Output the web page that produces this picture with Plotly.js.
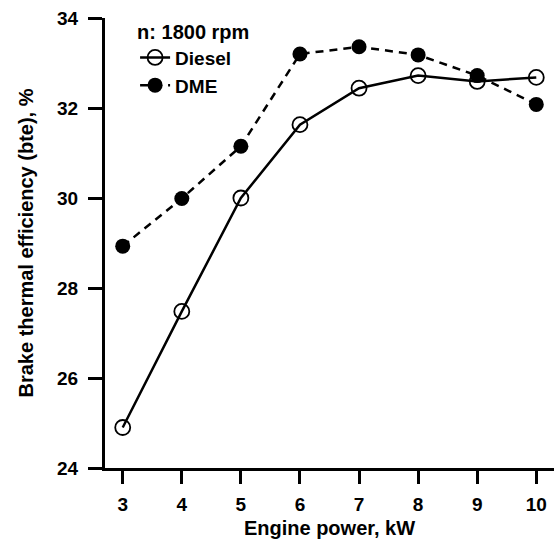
<!DOCTYPE html>
<html><head><meta charset="utf-8">
<script src="https://cdn.plot.ly/plotly-3.0.1.min.js"></script>
<style>body{margin:0;background:#fff}#chart{width:557px;height:540px}</style>
</head><body><div id="chart"></div>
<script>
const power = [3, 4, 5, 6, 7, 8, 9, 10];
const dieselBte = [24.9, 27.48, 30.0, 31.63, 32.44, 32.72, 32.59, 32.68];
const dmeBte = [28.93, 29.99, 31.15, 33.2, 33.36, 33.18, 32.72, 32.08];
const xTicks = [3, 4, 5, 6, 7, 8, 9, 10];
const yTicks = [24, 26, 28, 30, 32, 34];

const F = 'Liberation Sans, Arial, sans-serif';
const traces = [
  {x: power, y: dieselBte, name: 'Diesel', type: 'scatter', mode: 'lines+markers',
   line: {color: '#000', width: 2.5, dash: 'solid'},
   marker: {symbol: 'circle-open', size: 15, color: '#000', line: {width: 1.8, color: '#000'}}},
  {x: power, y: dmeBte, name: 'DME', type: 'scatter', mode: 'lines+markers',
   line: {color: '#000', width: 2.5, dash: '8px,6px'},
   marker: {symbol: 'circle', size: 15, color: '#000'}}
];
const layout = {
  width: 557, height: 540,
  margin: {l: 105, r: 3, t: 18, b: 72},
  paper_bgcolor: '#fff', plot_bgcolor: '#fff',
  font: {family: F, size: 20, color: '#000', weight: 'bold'},
  showlegend: true,
  legend: {x: 0.067, y: 1.012, xanchor: 'left', yanchor: 'top',
    bgcolor: 'rgba(0,0,0,0)', font: {family: F, size: 19, color: '#000', weight: 'bold'},
    title: {text: 'n: 1800 rpm', font: {family: F, size: 20, weight: 'bold'}, side: 'top'},
    tracegroupgap: 0},
  xaxis: {range: [2.7, 10.3], tickvals: xTicks, ticktext: xTicks.map(String),
    showgrid: false, zeroline: false, showline: true, linewidth: 3, linecolor: '#000',
    ticks: 'outside', ticklen: 13, tickwidth: 3, tickcolor: '#000', ticklabelstandoff: 4,
    tickfont: {family: F, size: 19, weight: 'bold'},
    title: {text: 'Engine power, kW', font: {family: F, size: 20, weight: 'bold'}, standoff: 8}},
  yaxis: {range: [24, 34], tickvals: yTicks, ticktext: yTicks.map(String),
    showgrid: false, zeroline: false, showline: true, linewidth: 3, linecolor: '#000',
    ticks: 'outside', ticklen: 14, tickwidth: 3, tickcolor: '#000', ticklabelstandoff: 6,
    tickfont: {family: F, size: 19, weight: 'bold'},
    title: {text: 'Brake thermal efficiency (bte), %', font: {family: F, size: 20, weight: 'bold'}, standoff: 19}}
};
Plotly.newPlot('chart', traces, layout, {displayModeBar: false, staticPlot: true});
</script></body></html>
